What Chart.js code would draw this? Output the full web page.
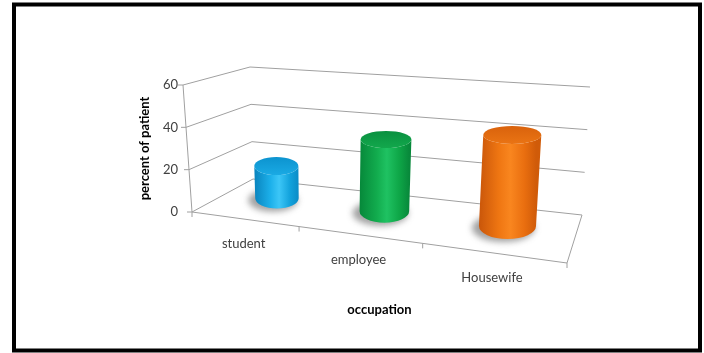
<!DOCTYPE html>
<html>
<head>
<meta charset="utf-8">
<script src="https://cdn.jsdelivr.net/npm/chart.js@4.4.1/dist/chart.umd.min.js"></script>
<style>
  html, body { margin: 0; padding: 0; background: #fff; }
  #wrap { width: 704px; height: 353px; }
</style>
</head>
<body>
<div id="wrap"><canvas id="chart" width="704" height="353"></canvas></div>
<script>
// occupation breakdown, percent of patients
const categories = ['student', 'employee', 'Housewife'];
const percentValues = [16, 34, 41];
const yTicks = [0, 20, 40, 60];

const CYL_COLORS = [
  { stops: ['#0a86c0', '#1cb0ea', '#3cc6f7', '#12a2dc', '#0b8bc6'], top: ['#0c93cf', '#1aaae4'] },
  { stops: ['#06883a', '#12ac4e', '#1fc262', '#0ea647', '#08893b'], top: ['#0a9040', '#12a84c'] },
  { stops: ['#c9560a', '#ef7612', '#f9861f', '#e96e0f', '#d05b09'], top: ['#d9620c', '#ea7414'] },
];
const GRID_COLOR = '#a0a0a0';
const CYL_RU = 0.072;   // cylinder radius across categories (unit box width)
const CYL_RW = 0.30;    // cylinder radius in depth (unit box depth)
const CYL_W = 0.56;     // depth position of the cylinders

// map the unit square onto a quadrilateral [p00, p10, p11, p01]
function quadMap(q) {
  const [[x0, y0], [x1, y1], [x2, y2], [x3, y3]] = q;
  const dx1 = x1 - x2, dx2 = x3 - x2, dx3 = x0 - x1 + x2 - x3;
  const dy1 = y1 - y2, dy2 = y3 - y2, dy3 = y0 - y1 + y2 - y3;
  const den = dx1 * dy2 - dx2 * dy1;
  const g = (dx3 * dy2 - dx2 * dy3) / den;
  const h = (dx1 * dy3 - dx3 * dy1) / den;
  const a = x1 - x0 + g * x1, b = x3 - x0 + h * x3, c = x0;
  const d = y1 - y0 + g * y1, e = y3 - y0 + h * y3, f = y0;
  return (u, w) => {
    const z = g * u + h * w + 1;
    return [(a * u + b * w + c) / z, (d * u + e * w + f) / z];
  };
}

function projector(chart) {
  const { left: L, right: R, top: T, bottom: B } = chart.chartArea;
  const floor = quadMap([[L, B], [R, B + 51], [R + 15, B + 3], [L + 61, B - 33]]);
  const roof = quadMap([[L - 9, T], [R + 9, T + 28], [R + 23, T + 2], [L + 58, T - 18]]);
  return (u, t, w) => {
    const p = floor(u, w), q = roof(u, w);
    return [p[0] + (q[0] - p[0]) * t, p[1] + (q[1] - p[1]) * t];
  };
}

function line(ctx, a, b) {
  ctx.beginPath();
  ctx.moveTo(a[0], a[1]);
  ctx.lineTo(b[0], b[1]);
  ctx.stroke();
}

const box3d = {
  id: 'box3d',
  beforeDatasetsDraw(chart) {
    const { ctx, scales: { x, y } } = chart;
    const proj = projector(chart);
    const frac = v => (y.bottom - y.getPixelForValue(v)) / (y.bottom - y.top);
    const uOf = px => (px - x.left) / (x.right - x.left);

    ctx.save();
    ctx.strokeStyle = GRID_COLOR;
    ctx.lineWidth = 1;
    yTicks.forEach(v => {
      const t = frac(v);
      line(ctx, proj(0, t, 1), proj(1, t, 1));   // back wall
      line(ctx, proj(0, t, 0), proj(0, t, 1));   // side wall
      const p = proj(0, t, 0);
      line(ctx, p, [p[0] - 5, p[1]]);             // tick mark
    });
    line(ctx, proj(0, 0, 0), proj(0, 1, 0));
    line(ctx, proj(0, 0, 0), proj(1, 0, 0));
    line(ctx, proj(1, 0, 0), proj(1, 0, 1));

    // category boundary ticks along the front edge of the floor
    const half = (x.getPixelForValue(1) - x.getPixelForValue(0)) / 2;
    for (let i = 0; i <= categories.length; i++) {
      const u = uOf(x.getPixelForValue(0) - half + 2 * half * i);
      const p = proj(u, 0, 0);
      line(ctx, p, [p[0], p[1] + 5]);
    }

    // category labels under the front edge
    ctx.fillStyle = '#404040';
    ctx.font = '13px Lato';
    ctx.textAlign = 'center';
    ctx.textBaseline = 'middle';
    categories.forEach((c, i) => {
      const p = proj(uOf(x.getPixelForValue(i)), 0, 0);
      ctx.fillText(c, p[0], p[1] + 25);
    });
    ctx.restore();
  },
  afterDatasetsDraw(chart) {
    const { ctx, scales: { x, y } } = chart;
    const proj = projector(chart);
    const frac = v => (y.bottom - y.getPixelForValue(v)) / (y.bottom - y.top);
    const uOf = px => (px - x.left) / (x.right - x.left);

    chart.data.datasets[0].data.forEach((v, i) => {
      const uc = uOf(x.getPixelForValue(i));
      const ell = t => {
        const c = proj(uc, t, CYL_W);
        const rx = (proj(uc + CYL_RU, t, CYL_W)[0] - proj(uc - CYL_RU, t, CYL_W)[0]) / 2;
        const ry = (proj(uc, t, CYL_W - CYL_RW)[1] - proj(uc, t, CYL_W + CYL_RW)[1]) / 2;
        return { cx: c[0], cy: c[1], rx, ry };
      };
      const b = ell(0), tp = ell(frac(v));
      const col = CYL_COLORS[i];

      // soft floor shadow
      ctx.save();
      ctx.filter = 'blur(3px)';
      ctx.fillStyle = 'rgba(70,70,70,0.5)';
      ctx.beginPath();
      ctx.ellipse(b.cx - 4, b.cy + 2, b.rx + 3, b.ry + 1, 0, 0, Math.PI * 2);
      ctx.fill();
      ctx.restore();

      // body
      const grad = ctx.createLinearGradient(b.cx - b.rx, 0, b.cx + b.rx, 0);
      [0, 0.35, 0.55, 0.8, 1].forEach((s, k) => grad.addColorStop(s, col.stops[k]));
      ctx.save();
      ctx.fillStyle = grad;
      ctx.beginPath();
      ctx.moveTo(tp.cx - tp.rx, tp.cy);
      ctx.lineTo(b.cx - b.rx, b.cy);
      ctx.ellipse(b.cx, b.cy, b.rx, b.ry, 0, Math.PI, 0, true);
      ctx.lineTo(tp.cx + tp.rx, tp.cy);
      ctx.ellipse(tp.cx, tp.cy, tp.rx, tp.ry, 0, 0, Math.PI, false);
      ctx.closePath();
      ctx.fill();

      // top face
      const tg = ctx.createLinearGradient(0, tp.cy - tp.ry, 0, tp.cy + tp.ry);
      tg.addColorStop(0, col.top[0]);
      tg.addColorStop(1, col.top[1]);
      ctx.fillStyle = tg;
      ctx.beginPath();
      ctx.ellipse(tp.cx, tp.cy, tp.rx, tp.ry, 0, 0, Math.PI * 2);
      ctx.fill();
      ctx.restore();
    });
  },
  afterDraw(chart) {
    const { ctx } = chart;
    ctx.save();
    ctx.strokeStyle = '#000';
    ctx.lineWidth = 4;
    ctx.strokeRect(14, 4.5, 686, 346);
    ctx.restore();
  }
};

Chart.defaults.font.family = 'Lato';

new Chart(document.getElementById('chart'), {
  type: 'bar',
  data: {
    labels: categories,
    datasets: [{ data: percentValues, backgroundColor: 'rgba(0,0,0,0)', borderWidth: 0 }]
  },
  options: {
    responsive: false,
    animation: false,
    layout: { padding: { left: 130, right: 137, top: 85, bottom: 35 } },
    plugins: { legend: { display: false }, tooltip: { enabled: false } },
    scales: {
      x: {
        grid: { display: false, drawTicks: false },
        border: { display: false },
        ticks: { display: false },
        title: {
          display: true, text: 'occupation', color: '#000',
          font: { size: 13, weight: 'bold' }, padding: { top: 0, bottom: 0 }
        },
        afterFit: axis => { axis.height = 106; }
      },
      y: {
        min: 0, max: 60,
        afterBuildTicks: axis => { axis.ticks = yTicks.map(v => ({ value: v })); },
        grid: { display: false, drawTicks: false },
        border: { display: false },
        ticks: { color: '#404040', font: { size: 13 }, padding: 14 },
        title: {
          display: true, text: 'percent of patient', color: '#000',
          font: { size: 13, weight: 'bold' }, padding: { top: 7, bottom: 0 }
        },
        afterFit: axis => { axis.width = 62; }
      }
    }
  },
  plugins: [box3d]
});
</script>
</body>
</html>
